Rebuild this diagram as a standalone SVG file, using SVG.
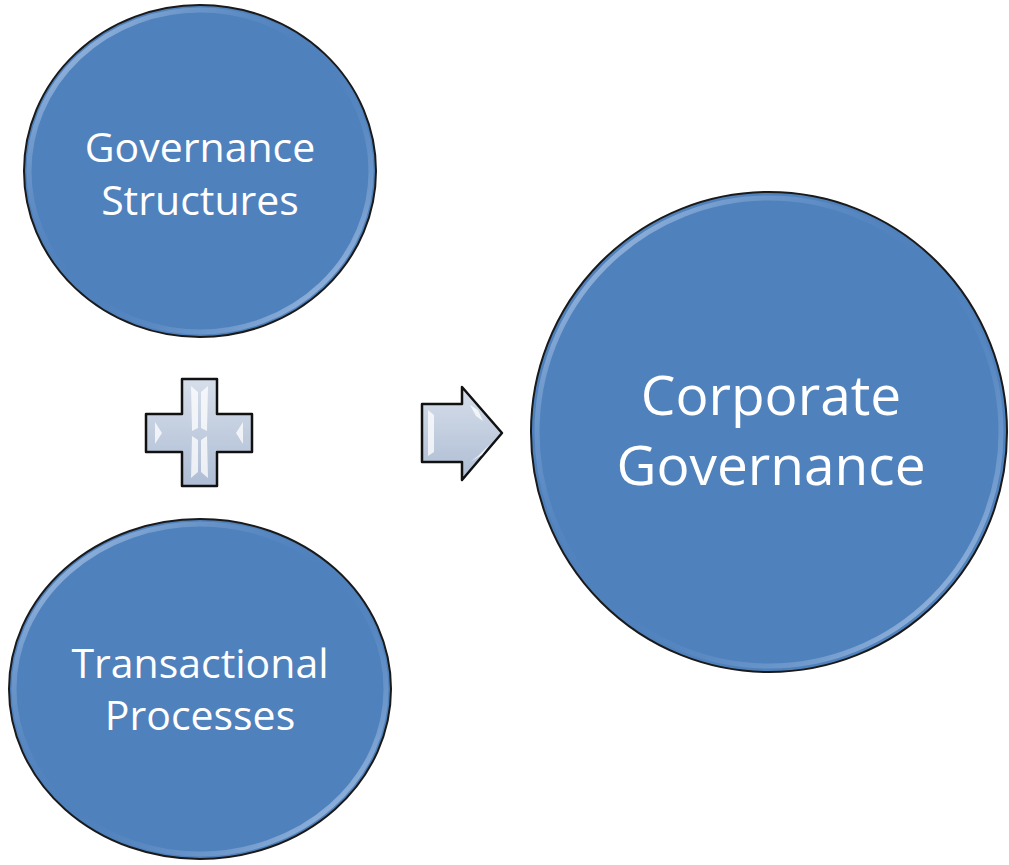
<svg xmlns="http://www.w3.org/2000/svg" width="1009" height="865" viewBox="0 0 1009 865">
<defs>
<style>
.node{fill:#4f81bd;stroke:#1a1a1a;stroke-width:2}
.rim{fill:none;stroke:url(#rimg);stroke-width:5}
.lbl{font-family:"Open Sans","Liberation Sans",sans-serif;fill:#ffffff;text-anchor:middle}
.sym{fill:url(#symg);stroke:#111;stroke-width:2.5;stroke-linejoin:round}
.hi{fill:#ffffff;opacity:0.75}
</style>
<linearGradient id="rimg" x1="0" y1="0" x2="1" y2="1">
<stop offset="0" stop-color="#e6f0ff" stop-opacity="0.9"/>
<stop offset="0.2" stop-color="#b9d0ee" stop-opacity="0.35"/>
<stop offset="0.5" stop-color="#4f81bd" stop-opacity="0"/>
<stop offset="0.8" stop-color="#b9d0ee" stop-opacity="0.35"/>
<stop offset="1" stop-color="#e6f0ff" stop-opacity="0.9"/>
</linearGradient>
<linearGradient id="symg" x1="0" y1="0" x2="0" y2="1">
<stop offset="0" stop-color="#d6deea"/>
<stop offset="1" stop-color="#aebdd4"/>
</linearGradient>
</defs>
<rect width="1009" height="865" fill="#ffffff"/>
<g id="connectors">
<g id="plus">
<path class="sym" d="M182,379 H217 V414 H252 V452 H217 V486 H182 V452 H146 V414 H182 Z"/>
<path class="hi" d="M191,386 L198,392 V428 L192,431 Z"/>
<path class="hi" d="M208,386 L201,392 V428 L207,431 Z"/>
<path class="hi" d="M191,478 L198,472 V440 L192,436 Z"/>
<path class="hi" d="M208,478 L201,472 V440 L207,436 Z"/>
<path class="hi" d="M155,422 L162,433 L155,444 Z"/>
<path class="hi" d="M243,422 L236,433 L243,444 Z"/>
</g>
<g id="arrow">
<path class="sym" d="M422,404 H462 V387 L502,433 L462,480 V462 H422 Z"/>
<path class="hi" d="M428,410 L434,415 V452 L428,456 Z"/>
<path class="hi" d="M470,405 L478,410 L483,421 L476,416 Z"/>
<path class="hi" d="M470,462 L478,456 L490,444 L482,455 Z"/>
</g>
</g>
<g id="node-governance-structures">
<ellipse class="node" cx="200" cy="171" rx="176" ry="166"/>
<ellipse class="rim" cx="200" cy="171" rx="171" ry="161"/>
<text class="lbl" x="200" y="162" font-size="41">Governance</text>
<text class="lbl" x="200" y="215" font-size="41">Structures</text>
</g>
<g id="node-transactional-processes">
<ellipse class="node" cx="200" cy="689" rx="191" ry="170"/>
<ellipse class="rim" cx="200" cy="689" rx="186" ry="165"/>
<text class="lbl" x="200" y="678" font-size="41">Transactional</text>
<text class="lbl" x="200" y="730" font-size="41">Processes</text>
</g>
<g id="node-corporate-governance">
<ellipse class="node" cx="769" cy="432" rx="238" ry="240"/>
<ellipse class="rim" cx="769" cy="432" rx="232" ry="234"/>
<text class="lbl" x="771" y="415" font-size="55">Corporate</text>
<text class="lbl" x="771" y="485" font-size="55">Governance</text>
</g>
</svg>
